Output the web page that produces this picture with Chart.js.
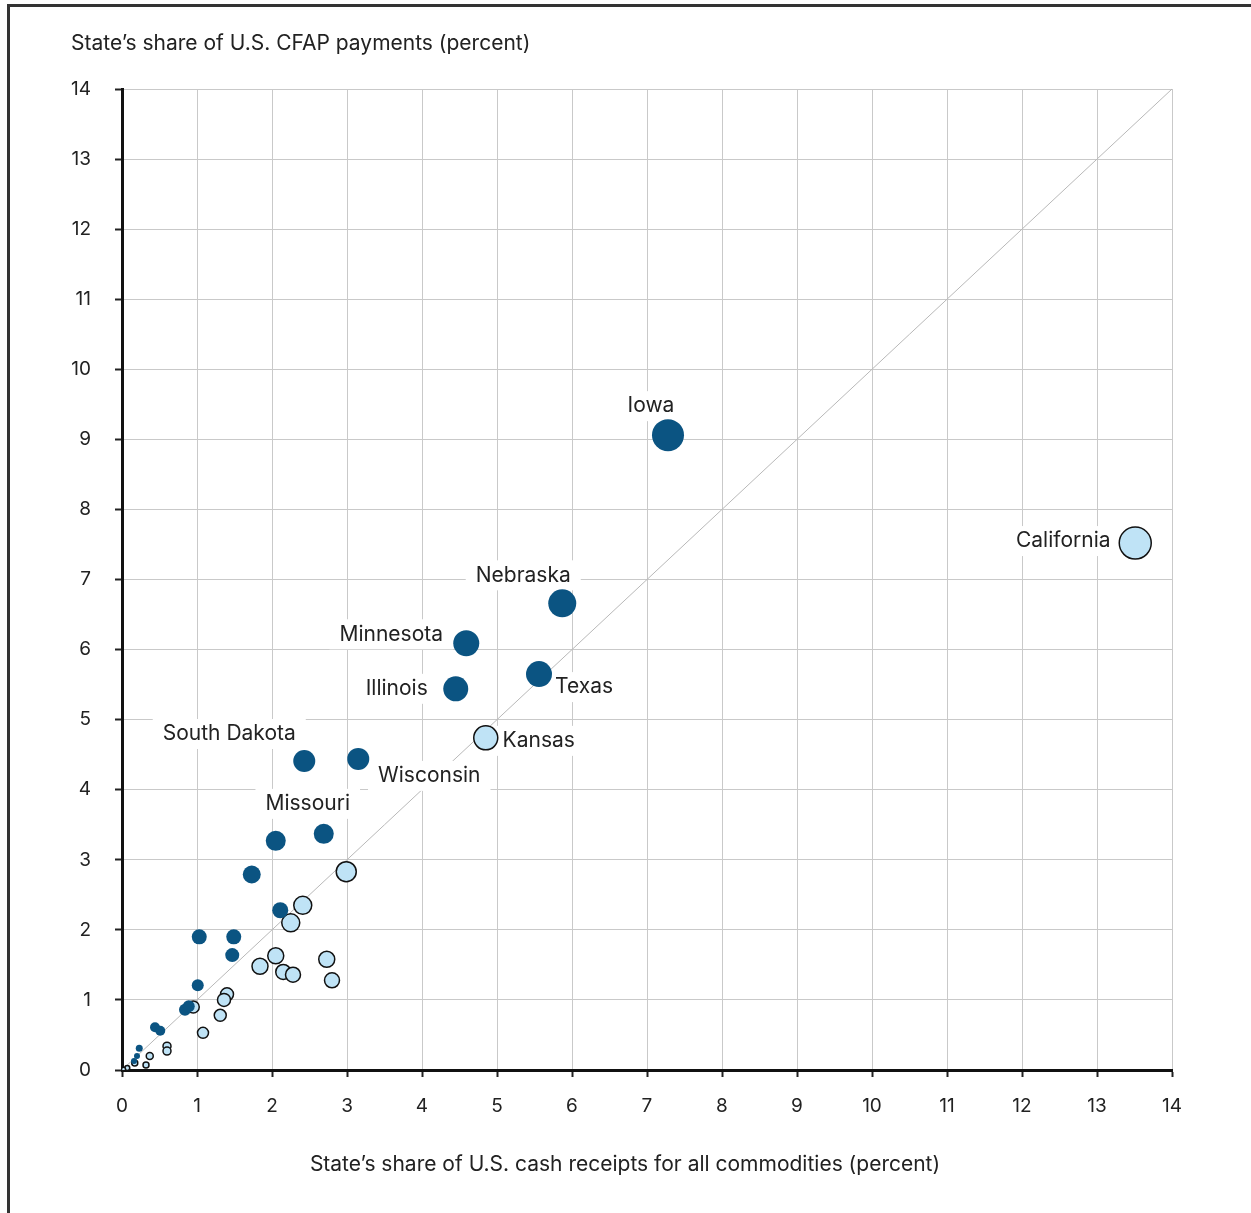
<!DOCTYPE html>
<html>
<head>
<meta charset="utf-8">
<script src="https://cdn.jsdelivr.net/npm/chart.js@4.4.1/dist/chart.umd.min.js"></script>
<style>
  body { margin: 0; background: #fff; }
  #frame { position: absolute; left: 7px; top: 4px; width: 1300px; height: 1300px;
           border-top: 3px solid #333; border-left: 3px solid #333; }
  canvas { position: absolute; left: 0; top: 0; }
</style>
</head>
<body>
<div id="frame"></div>
<canvas id="chart" width="1251" height="1213"></canvas>
<script>
// states whose CFAP share is above their cash-receipt share (dark)
const aboveX = [7.28, 5.87, 4.59, 5.56, 4.45, 2.43, 3.15, 2.69, 2.05, 1.73, 2.11, 1.03, 1.49, 1.47, 1.01, 0.84, 0.89, 0.44, 0.51, 0.23, 0.20, 0.16];
const aboveY = [9.06, 6.66, 6.09, 5.65, 5.44, 4.41, 4.44, 3.37, 3.27, 2.79, 2.28, 1.90, 1.90, 1.64, 1.21, 0.86, 0.91, 0.61, 0.56, 0.31, 0.20, 0.13];
const aboveR = [16, 14, 13, 13, 12.5, 11, 11, 10, 10, 9, 8, 7.5, 7.5, 7, 6, 6, 6, 5, 5, 3.5, 3, 3];

// states whose CFAP share is below (light)
const belowX = [13.51, 4.85, 2.99, 2.41, 2.25, 2.05, 2.73, 1.84, 2.15, 2.28, 2.80, 1.40, 1.36, 0.95, 1.31, 1.08, 0.60, 0.60, 0.37, 0.17, 0.32, 0.07, 0.02];
const belowY = [7.52, 4.74, 2.83, 2.35, 2.10, 1.63, 1.58, 1.48, 1.40, 1.36, 1.28, 1.08, 1.00, 0.90, 0.78, 0.53, 0.34, 0.27, 0.20, 0.10, 0.07, 0.03, 0.01];
const belowR = [16, 12, 10, 9, 9, 8, 8, 8, 7.5, 7.5, 7.5, 6.5, 6.5, 6, 6, 5.5, 4, 4, 3.5, 3, 3, 2.5, 2];

const axisTicks = [0, 1, 2, 3, 4, 5, 6, 7, 8, 9, 10, 11, 12, 13, 14];
const yTitle = 'State\u2019s share of U.S. CFAP payments (percent)';
const xTitle = 'State\u2019s share of U.S. cash receipts for all commodities (percent)';

// label name, dataset, point index
const stateNames = ['Iowa', 'Nebraska', 'Minnesota', 'Texas', 'Illinois', 'South Dakota', 'Wisconsin', 'Missouri', 'California', 'Kansas'];
const stateSet = [0, 0, 0, 0, 0, 0, 0, 0, 1, 1];
const statePoint = [0, 1, 2, 3, 4, 5, 6, 7, 0, 1];

// pixel offsets of label centre from the point
const labelOffset = {
  'Iowa': [-17, -29], 'Nebraska': [-39, -28], 'Minnesota': [-75, -9], 'Texas': [45, 13],
  'Illinois': [-59, 0], 'South Dakota': [-75, -27], 'Wisconsin': [71, 17], 'Missouri': [-16, -30],
  'California': [-72, -2], 'Kansas': [53, 3]
};

const FONT = 'Inter, "Noto Sans", sans-serif';
const TEXT = '#222';

const toPoints = (xs, ys, rs) => xs.map((x, i) => ({ x: x, y: ys[i], r: rs[i] }));

const diagonal = {
  id: 'diagonal',
  beforeDatasetsDraw(chart) {
    const { ctx, scales: { x, y } } = chart;
    const lo = axisTicks[0], hi = axisTicks[axisTicks.length - 1];
    ctx.save();
    ctx.strokeStyle = '#b8b8b8';
    ctx.lineWidth = 1;
    ctx.beginPath();
    ctx.moveTo(x.getPixelForValue(lo), y.getPixelForValue(lo));
    ctx.lineTo(x.getPixelForValue(hi), y.getPixelForValue(hi));
    ctx.stroke();

    // state labels on white boxes, over the grid
    ctx.font = '21px ' + FONT;
    ctx.textAlign = 'center';
    ctx.textBaseline = 'middle';
    stateNames.forEach((name, i) => {
      const p = chart.data.datasets[stateSet[i]].data[statePoint[i]];
      const off = labelOffset[name];
      const cx = x.getPixelForValue(p.x) + off[0];
      const cy = y.getPixelForValue(p.y) + off[1];
      const w = ctx.measureText(name).width;
      ctx.fillStyle = '#fff';
      ctx.fillRect(cx - w / 2 - 10, cy - 15, w + 20, 30);
      ctx.fillStyle = TEXT;
      ctx.fillText(name, cx, cy);
    });
    ctx.restore();
  },
  afterDraw(chart) {
    const { ctx, chartArea } = chart;
    ctx.save();
    ctx.font = '21px ' + FONT;
    ctx.fillStyle = TEXT;
    ctx.textBaseline = 'middle';
    ctx.textAlign = 'left';
    ctx.fillText(yTitle, 71, 44);
    ctx.textAlign = 'center';
    ctx.fillText(xTitle, (chartArea.left + chartArea.right) / 2 - 22, 1165);
    ctx.restore();
  }
};

const scaleCommon = {
  type: 'linear',
  min: axisTicks[0],
  max: axisTicks[axisTicks.length - 1],
  grid: { color: '#c9c9c9', lineWidth: 1, tickColor: '#222', tickLength: 7, tickWidth: 2 },
  border: { color: '#111', width: 3 },
  afterBuildTicks(s) { s.ticks = axisTicks.map(v => ({ value: v })); }
};

new Chart(document.getElementById('chart'), {
  type: 'bubble',
  data: {
    datasets: [
      {
        label: 'above',
        data: toPoints(aboveX, aboveY, aboveR),
        backgroundColor: '#0b5482',
        borderColor: '#0b5482',
        borderWidth: 0
      },
      {
        label: 'below',
        data: toPoints(belowX, belowY, belowR),
        backgroundColor: '#bfe3f6',
        borderColor: '#111',
        borderWidth: 1.5
      }
    ]
  },
  options: {
    responsive: false,
    animation: false,
    events: [],
    layout: { padding: { top: 89, right: 79, left: 0, bottom: 0 } },
    plugins: { legend: { display: false }, tooltip: { enabled: false } },
    scales: {
      x: Object.assign({}, scaleCommon, {
        ticks: { padding: 18, color: TEXT, font: { family: FONT, size: 19 } },
        afterFit(s) { s.height = 143; }
      }),
      y: Object.assign({}, scaleCommon, {
        ticks: { padding: 24, color: TEXT, font: { family: FONT, size: 19 } },
        afterFit(s) { s.width = 122; }
      })
    }
  },
  plugins: [diagonal]
});
</script>
</body>
</html>
